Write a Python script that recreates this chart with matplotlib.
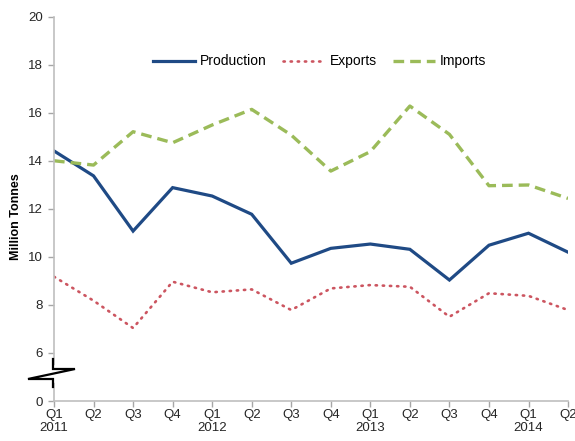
import matplotlib
matplotlib.use("Agg")
import matplotlib.pyplot as plt
from matplotlib.lines import Line2D

plt.rcParams['font.family'] = ['Liberation Sans', 'DejaVu Sans']

quarters = ['Q1\n2011', 'Q2', 'Q3', 'Q4', 'Q1\n2012', 'Q2', 'Q3', 'Q4',
            'Q1\n2013', 'Q2', 'Q3', 'Q4', 'Q1\n2014', 'Q2']
production = [14.42, 13.38, 11.08, 12.89, 12.54, 11.78, 9.74, 10.36,
              10.54, 10.32, 9.04, 10.49, 10.99, 10.20]
exports = [9.18, 8.18, 7.04, 8.97, 8.53, 8.65, 7.79, 8.69,
           8.83, 8.76, 7.51, 8.49, 8.38, 7.79]
imports = [14.01, 13.83, 15.22, 14.76, 15.50, 16.15, 15.08, 13.58,
           14.39, 16.29, 15.11, 12.97, 13.00, 12.44]

# broken axis: the bottom tick sits where 4 would be and reads "0"
ytick_vals = [4, 6, 8, 10, 12, 14, 16, 18, 20]
ytick_labels = ['0', '6', '8', '10', '12', '14', '16', '18', '20']

fig = plt.figure(figsize=(5.75, 4.41), dpi=100)
ax = fig.add_axes([0.0939, 0.0907, 0.894, 0.8708])

x = list(range(len(quarters)))
ax.plot(x, production, color='#1f4a85', lw=2.3, label='Production',
        solid_joinstyle='miter')
ax.plot(x, exports, color='#cc5560', lw=1.9, linestyle=(0, (0.5, 2.2)),
        dash_capstyle='round', label='Exports')
ax.plot(x, imports, color='#9bbb59', lw=2.4, linestyle=(0, (3.2, 1.8)),
        label='Imports')

ax.set_xlim(0, len(quarters) - 1)
ax.set_ylim(4, 20)
ax.set_xticks(x)
ax.set_xticklabels(quarters, fontsize=9.5, color='#262626', linespacing=1.05)
ax.set_yticks(ytick_vals)
ax.set_yticklabels(ytick_labels, fontsize=9.5, color='#262626')
ax.tick_params(axis='both', color='#a6a6a6', length=4, width=1)
ax.tick_params(axis='x', pad=2)
ax.tick_params(axis='y', pad=4)

for side in ['top', 'right']:
    ax.spines[side].set_visible(False)
for side in ['left', 'bottom']:
    ax.spines[side].set_color('#bfbfbf')
    ax.spines[side].set_linewidth(1.2)

ax.set_ylabel('Million Tonnes', fontsize=9, fontweight='bold')
ax.yaxis.set_label_coords(-0.062, 0.48)

ax.legend(loc='upper center', bbox_to_anchor=(0.517, 0.935), ncol=3,
          frameon=False, fontsize=10, handlelength=3.0, columnspacing=1.2,
          handletextpad=0.35)

# axis break symbol
tr = ax.transAxes
def fx(px):
    return (px - 54) / 514.0
def fy(py):
    return (401 - py) / 384.0

ax.add_line(Line2D([0, 0], [fy(368), fy(380)], color='white', lw=4,
                   transform=tr, clip_on=False, zorder=5))
ax.add_line(Line2D([fx(53), fx(53), fx(75), fx(28), fx(53), fx(53)],
                   [fy(359), fy(369), fy(369), fy(379), fy(379), fy(387)],
                   color='black', lw=1.6, transform=tr, clip_on=False,
                   zorder=6, solid_joinstyle='miter'))

fig.savefig('out.png', dpi=100)
